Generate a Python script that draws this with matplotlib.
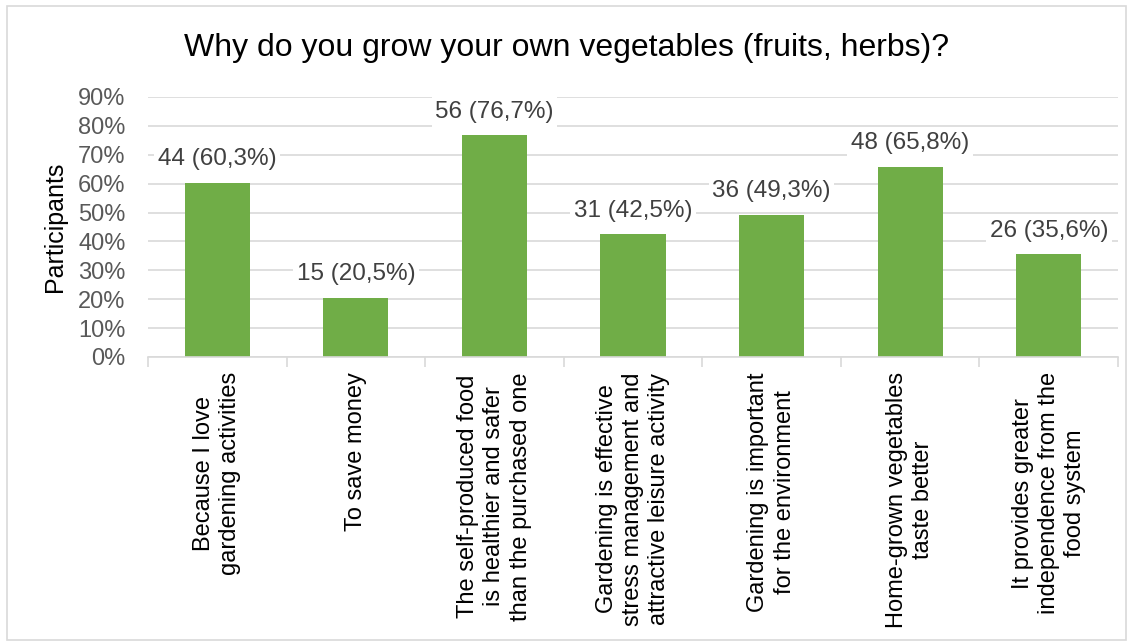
import matplotlib.pyplot as plt
from matplotlib.patches import Rectangle
from matplotlib.ticker import PercentFormatter

plt.rcParams['font.family'] = ['Liberation Sans', 'DejaVu Sans']

# Survey answers
categories = [
    "Because I love\ngardening activities",
    "To save money",
    "The self-produced food\nis healthier and safer\nthan the purchased one",
    "Gardening is effective\nstress management and\nattractive leisure activity",
    "Gardening is important\nfor the environment",
    "Home-grown vegetables\ntaste better",
    "It provides greater\nindependence from the\nfood system",
]
counts = [44, 15, 56, 31, 36, 48, 26]
percents = [60.3, 20.5, 76.7, 42.5, 49.3, 65.8, 35.6]

fig = plt.figure(figsize=(11.33, 6.44), dpi=100)
ax = fig.add_axes([0.1306, 0.4457, 0.8562, 0.4037])

x = range(len(categories))
bars = ax.bar(x, percents, width=0.47, color='#70AD47', zorder=2)

# value labels with white box so the gridlines break behind them
for b, n, p in zip(bars, counts, percents):
    txt = f"{n} ({p:.1f}%)".replace('.', ',')
    ax.annotate(txt, (b.get_x() + b.get_width() / 2, p), xytext=(0, 9),
                textcoords='offset points', ha='center', va='bottom',
                fontsize=17.5, color='#404040', zorder=3,
                bbox=dict(boxstyle='square,pad=0.15', fc='white', ec='none'))

ax.set_xlim(-0.5, len(categories) - 0.5)
ax.set_ylim(0, 90)
ax.set_yticks(range(0, 91, 10))
ax.yaxis.set_major_formatter(PercentFormatter(decimals=0))
ax.grid(axis='y', color='#d9d9d9', linewidth=1.2, zorder=0)
ax.set_axisbelow(True)

ax.set_xticks(list(x))
ax.set_xticklabels(categories, rotation=90, ha='center', va='top',
                   multialignment='center', fontsize=17, color='black',
                   linespacing=1.25)
ax.tick_params(axis='x', length=0, pad=11)
ax.set_xticks([i - 0.5 for i in range(len(categories) + 1)], minor=True)
ax.tick_params(axis='x', which='minor', length=7, color='#d9d9d9', width=1.2)
ax.tick_params(axis='y', length=0, labelsize=17, labelcolor='#595959', pad=16)

for s in ['top', 'right', 'left']:
    ax.spines[s].set_visible(False)
ax.spines['bottom'].set_color('#d9d9d9')
ax.spines['bottom'].set_linewidth(1.2)

ax.set_ylabel("Participants", fontsize=18)
ax.yaxis.set_label_coords(-0.083, 0.5)

fig.text(0.5, 0.925, "Why do you grow your own vegetables (fruits, herbs)?",
         ha='center', va='center', fontsize=23)

# light outer frame
fig.patches.append(Rectangle((0.006, 0.006), 0.988, 0.985,
                             transform=fig.transFigure, fill=False,
                             edgecolor='#d9d9d9', linewidth=1.2))

fig.savefig('out.png', dpi=100)
